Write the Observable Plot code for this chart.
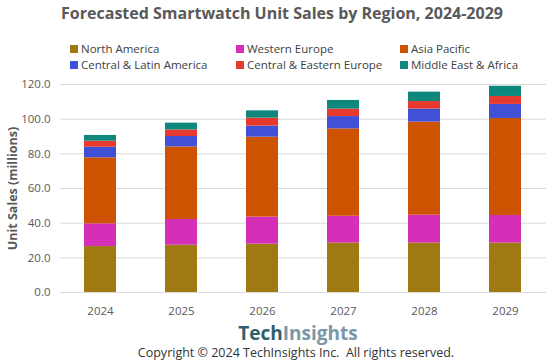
<!DOCTYPE html>
<html><head><meta charset="utf-8">
<script src="https://cdn.jsdelivr.net/npm/d3@7"></script>
<script src="https://cdn.jsdelivr.net/npm/@observablehq/plot@0.6"></script>
<style>
body{margin:0;background:#fff;font-family:"Open Sans",sans-serif;}
#wrap{position:relative;width:550px;height:363px;overflow:hidden;}
#title{position:absolute;left:0;top:2px;width:564px;text-align:center;font-weight:700;font-size:16px;color:#595959;}
#legend{position:absolute;left:0;top:40px;width:550px;height:34px;font-size:11.5px;color:#404040;}
.li{position:absolute;display:flex;align-items:center;white-space:nowrap;}
.sw{width:8px;height:8px;margin-right:3px;}
#chart{position:absolute;left:0;top:72px;}
#logo{position:absolute;left:0;top:320px;width:596px;text-align:center;font-weight:700;font-size:19px;}
#copy{position:absolute;left:0;top:344px;width:592px;text-align:center;font-size:12.5px;color:#333;}
</style></head>
<body><div id="wrap">
<div id="title">Forecasted Smartwatch Unit Sales by Region, 2024-2029</div>
<div id="legend"></div>
<div id="chart"></div>
<div id="logo"><span style="color:#2f5f6e">Tech</span><span style="color:#7a98a8">Insights</span></div>
<div id="copy">Copyright © 2024 TechInsights Inc.&nbsp; All rights reserved.</div>
</div>
<script>
const years = ["2024","2025","2026","2027","2028","2029"];
const regions = ["North America","Western Europe","Asia Pacific","Central & Latin America","Central & Eastern Europe","Middle East & Africa"];
const colors = ["#9e7a10","#d42fb6","#cd5300","#4051d8","#e73a2f","#0e877d"];
const northAmerica   = [26.5, 27.3, 27.9, 28.5, 28.5, 28.5];
const westernEurope  = [13.1, 14.8, 15.6, 15.5, 16.1, 15.9];
const asiaPacific    = [38.1, 41.9, 46.1, 50.4, 53.7, 56.0];
const centralLatAm   = [6.1, 6.0, 6.4, 7.1, 7.5, 8.1];
const centralEastEu  = [3.5, 3.8, 4.6, 4.3, 4.4, 4.6];
const middleEastAfr  = [3.3, 3.9, 4.2, 5.0, 5.4, 5.9];
const yTicks = [0, 20, 40, 60, 80, 100, 120];

const series = [northAmerica, westernEurope, asiaPacific, centralLatAm, centralEastEu, middleEastAfr];
const data = [];
years.forEach((y, i) => regions.forEach((r, j) => data.push({year: y, region: r, value: series[j][i]})));

// legend
const legPos = [[70,49],[236,49],[400,49],[70,65],[236,65],[400,65]];
const leg = document.getElementById("legend");
regions.forEach((r, i) => {
  const d = document.createElement("div");
  d.className = "li";
  d.style.left = legPos[i][0] + "px";
  d.style.top = (legPos[i][1] - 40 - 8) + "px";
  d.innerHTML = `<span class="sw" style="background:${colors[i]}"></span><span>${r}</span>`;
  leg.appendChild(d);
});

const chart = Plot.plot({
  width: 550,
  height: 250,
  marginTop: 12,
  marginBottom: 30,
  marginLeft: 60,
  marginRight: 4,
  style: {fontFamily: "Open Sans, sans-serif", fontSize: "11.5px", color: "#595959"},
  x: {domain: years, paddingInner: 0.6, paddingOuter: 0.3, label: null},
  y: {domain: [0, 120], label: null},
  color: {domain: regions, range: colors},
  marks: [
    Plot.gridY(yTicks, {stroke: "#d9d9d9", strokeOpacity: 1, strokeWidth: 1}),
    Plot.axisY(yTicks, {tickSize: 0, tickPadding: 10, tickFormat: d3.format(".1f"), label: null}),
    Plot.axisX({tickSize: 0, tickPadding: 14, label: null}),
    Plot.barY(data, {x: "year", y: "value", fill: "region", order: regions}),
    Plot.text(["Unit Sales (millions)"], {frameAnchor: "left", dx: -48, rotate: -90, textAnchor: "middle", fontWeight: 700, fontSize: 12.5, fill: "#595959", text: d => d})
  ]
});
document.getElementById("chart").appendChild(chart);
</script>
</body></html>
